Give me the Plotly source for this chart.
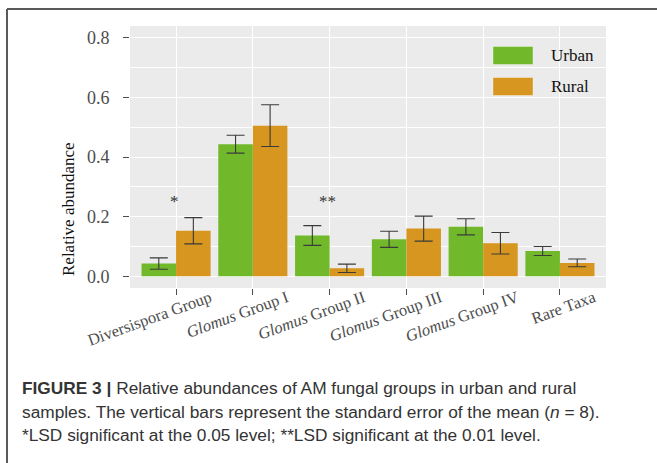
import plotly.graph_objects as go

categories = ["Diversispora Group", "<i>Glomus</i> Group I", "<i>Glomus</i> Group II",
              "<i>Glomus</i> Group III", "<i>Glomus</i> Group IV", "Rare Taxa"]
urban = [0.043, 0.443, 0.137, 0.124, 0.166, 0.085]
urban_se = [0.019, 0.030, 0.033, 0.027, 0.027, 0.015]
rural = [0.153, 0.505, 0.027, 0.160, 0.111, 0.045]
rural_se = [0.044, 0.070, 0.014, 0.042, 0.036, 0.013]
sig_labels = ["*", "", "**", "", "", ""]
sig_y = 0.26
y_ticks = [0.0, 0.2, 0.4, 0.6, 0.8]
y_ticktext = ["0.0", "0.2", "0.4", "0.6", "0.8"]

GREEN = "#71B92B"
ORANGE = "#D6961F"
SERIF = "Liberation Serif, Times New Roman, serif"
SANS = "Liberation Sans, Arial, sans-serif"

W, H = 657, 463
L, R, T, B = 130, 51, 26, 175
pw, ph = W - L - R, H - T - B


def px(x):
    return (x - L) / pw


def py(y):
    return (H - B - y) / ph


fig = go.Figure()
fig.add_trace(go.Bar(
    x=categories, y=urban, name="Urban", marker=dict(color=GREEN, line=dict(width=0)),
    error_y=dict(type="data", array=urban_se, color="#3a3a3a", thickness=1.1, width=9),
    showlegend=False))
fig.add_trace(go.Bar(
    x=categories, y=rural, name="Rural", marker=dict(color=ORANGE, line=dict(width=0)),
    error_y=dict(type="data", array=rural_se, color="#3a3a3a", thickness=1.1, width=9),
    showlegend=False))

annotations = []
for c, s in zip(categories, sig_labels):
    if s:
        annotations.append(dict(x=c, y=sig_y, xref="x", yref="y", text=s, showarrow=False,
                                font=dict(family=SERIF, size=17, color="#333333"),
                                xanchor="center", yanchor="middle", yshift=-3, xshift=-2))

# y axis title
annotations.append(dict(x=px(68), y=py(209), xref="paper", yref="paper", text="Relative abundance",
                        textangle=-90, showarrow=False, xanchor="center", yanchor="middle",
                        font=dict(family=SERIF, size=17, color="#111111")))

# legend (manual, ggplot style keys)
shapes = []
for name, col, yc in [("Urban", GREEN, 55.5), ("Rural", ORANGE, 86.5)]:
    shapes.append(dict(type="rect", xref="paper", yref="paper", x0=px(493), x1=px(533),
                       y0=py(yc - 9), y1=py(yc + 9), fillcolor=col,
                       line=dict(color="rgba(255,255,255,0.35)", width=1)))
    annotations.append(dict(x=px(549), y=py(yc), xref="paper", yref="paper", text=name,
                            showarrow=False, xanchor="left", yanchor="middle",
                            font=dict(family=SERIF, size=17, color="#111111")))

# figure frame (top and left border)
shapes.append(dict(type="line", xref="paper", yref="paper", x0=px(7), x1=px(700), y0=py(9), y1=py(9),
                   line=dict(color="#5a5a5a", width=2)))
shapes.append(dict(type="line", xref="paper", yref="paper", x0=px(7), x1=px(7), y0=py(9), y1=py(500),
                   line=dict(color="#5a5a5a", width=2)))

# caption
caption = [
    "<b>FIGURE 3 |</b> Relative abundances of AM fungal groups in urban and rural",
    "samples. The vertical bars represent the standard error of the mean (<i>n</i> = 8).",
    "*LSD significant at the 0.05 level; **LSD significant at the 0.01 level.",
]
for i, line in enumerate(caption):
    annotations.append(dict(x=px(20), y=py(388 + i * 23.5), xref="paper", yref="paper", text=line,
                            showarrow=False, xanchor="left", yanchor="middle",
                            font=dict(family=SANS, size=17.3, color="#333333")))

fig.update_layout(
    width=W, height=H,
    margin=dict(l=L, r=R, t=T, b=B, autoexpand=False),
    paper_bgcolor="white", plot_bgcolor="#EBEBEB",
    barmode="group", bargap=0.1, bargroupgap=0,
    annotations=annotations, shapes=shapes,
    showlegend=False,
)
fig.update_xaxes(
    range=[-0.6, 5.6], showgrid=True, gridcolor="white", gridwidth=1.2,
    ticks="outside", ticklen=6, tickcolor="#4d4d4d", tickwidth=1,
    tickangle=-20, ticklabelshift=34, ticklabelstandoff=-13,
    tickfont=dict(family=SERIF, size=16.5, color="#4D4D4D"),
    showline=False, zeroline=False,
)
fig.update_yaxes(
    range=[-0.039, 0.839], tickvals=y_ticks, ticktext=y_ticktext,
    showgrid=True, gridcolor="white", gridwidth=1.2,
    minor=dict(dtick=0.1, tick0=0, showgrid=True, gridcolor="white", gridwidth=0.6),
    ticks="outside", ticklen=6, tickcolor="#4d4d4d", tickwidth=1, ticklabelstandoff=10,
    tickfont=dict(family=SERIF, size=18, color="#4D4D4D"),
    showline=False, zeroline=False,
)

fig.write_html("out.html")
